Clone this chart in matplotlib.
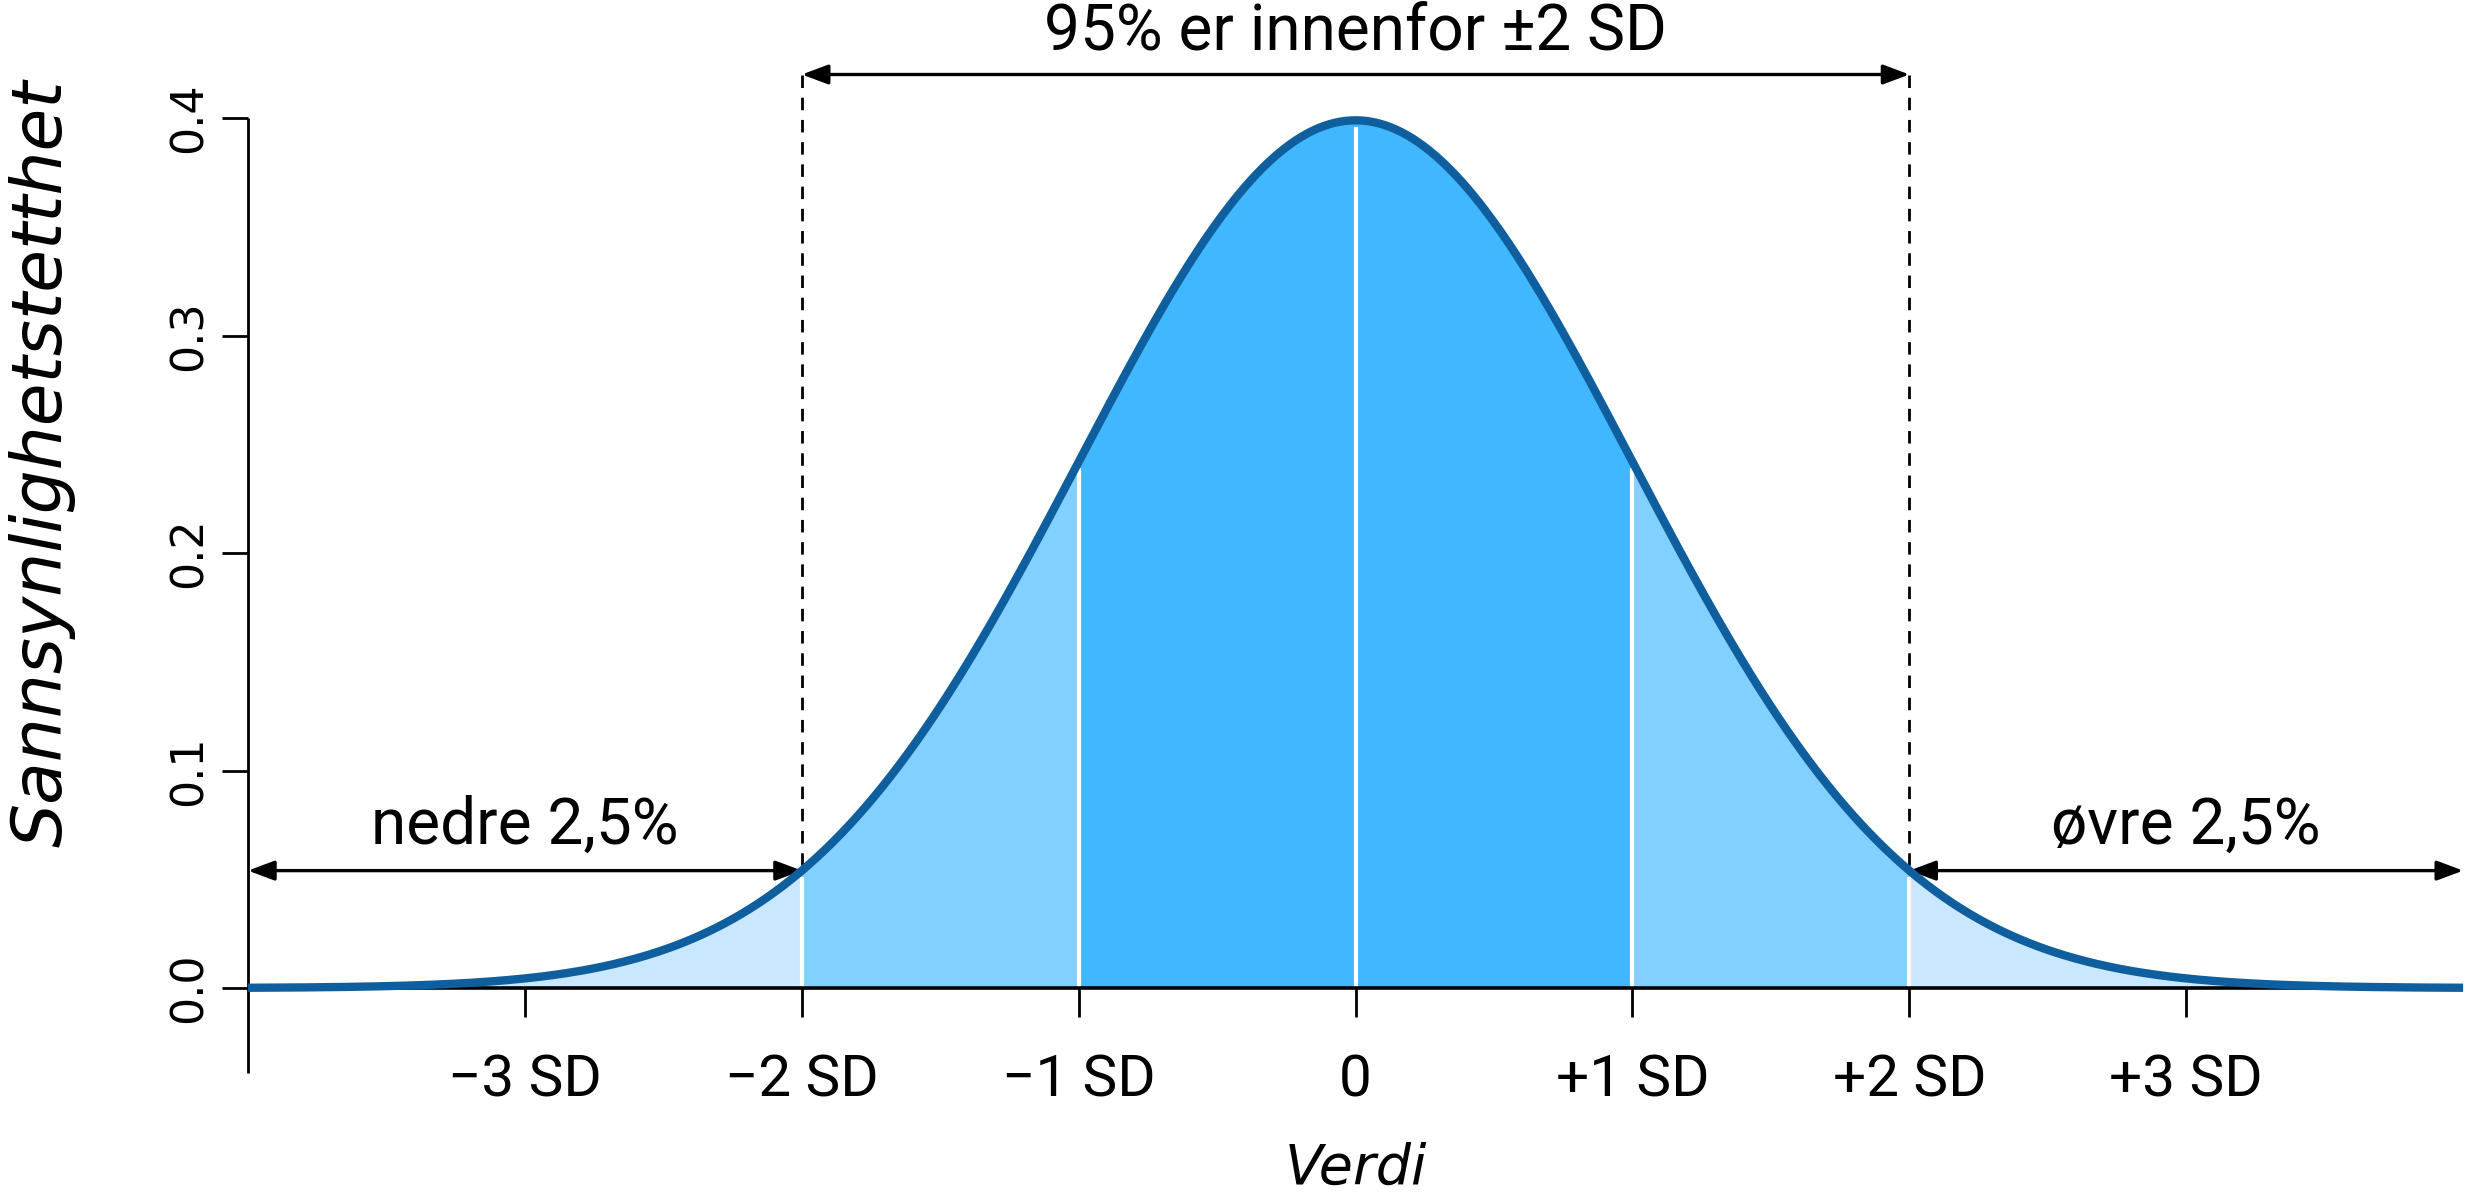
import matplotlib.pyplot as plt
import numpy as np

# -- Data
MEAN = 0.0
SD = 1.0
X_RANGE = (-4, 4)
BAND_EDGES = [-4, -2, -1, 1, 2, 4]
BAND_COLORS = ["#C9E8FF", "#82D0FF", "#40B7FF", "#82D0FF", "#C9E8FF"]
DIVIDERS = [-2, -1, 0, 1, 2]
X_TICKS = [-3, -2, -1, 0, 1, 2, 3]
X_TICK_LABELS = ["\u22123 SD", "\u22122 SD", "\u22121 SD", "0",
                 "+1 SD", "+2 SD", "+3 SD"]
Y_TICKS = [0.0, 0.1, 0.2, 0.3, 0.4]
Y_TICK_LABELS = ["0.0", "0.1", "0.2", "0.3", "0.4"]
TOP_TEXT = "95% er innenfor \u00b12 SD"
LOW_TEXT = "nedre 2,5%"
HIGH_TEXT = "\u00f8vre 2,5%"

CURVE_COLOR = "#0F5E9E"
TEXT_FONT = "Roboto"
AXIS_FONT = "DejaVu Sans"


def density(x):
    return np.exp(-0.5 * ((x - MEAN) / SD) ** 2) / (SD * np.sqrt(2 * np.pi))


fig = plt.figure(figsize=(12.38, 5.96), dpi=200)
ax = fig.add_axes([0.1002, 0.1711, 0.8946, 0.7299])
ax.set_xlim(*X_RANGE)
ax.set_ylim(0, 0.4)
for s in ax.spines.values():
    s.set_visible(False)

# -- filled bands
for (a, b), c in zip(zip(BAND_EDGES[:-1], BAND_EDGES[1:]), BAND_COLORS):
    xs = np.linspace(a, b, 200)
    ax.fill_between(xs, 0, density(xs), color=c, lw=0, zorder=1)

for d in DIVIDERS:
    ax.plot([d, d], [0, density(d) - 0.003], color="white", lw=1.5,
            zorder=2, solid_capstyle="butt")

# -- axis lines
ax.plot(X_RANGE, [0, 0], color="black", lw=1.3, zorder=2,
        solid_capstyle="butt", clip_on=False)
ax.plot([X_RANGE[0]] * 2, [0.4, -0.039], color="black", lw=1.0,
        clip_on=False, zorder=2, solid_capstyle="butt")

# -- curve
xs = np.linspace(X_RANGE[0], X_RANGE[1], 800)
ax.plot(xs, density(xs), color=CURVE_COLOR, lw=3.0, zorder=4,
        clip_on=False, solid_capstyle="butt")

# -- dashed guides and arrows
top_y = 0.42
tail_y = density(2)
for xv in (-2, 2):
    ax.plot([xv, xv], [top_y, tail_y], color="black", lw=1.0,
            linestyle=(0, (4.5, 3.5)), clip_on=False, zorder=3)

arrow = dict(arrowstyle="<|-|>,head_length=0.8,head_width=0.3",
             color="black", lw=1.2, shrinkA=0, shrinkB=0)
ax.annotate("", xy=(2, top_y), xytext=(-2, top_y), arrowprops=arrow,
            annotation_clip=False)
ax.annotate("", xy=(-2, tail_y), xytext=(-4, tail_y), arrowprops=arrow,
            annotation_clip=False)
ax.annotate("", xy=(4, tail_y), xytext=(2, tail_y), arrowprops=arrow,
            annotation_clip=False)

ax.text(0, 0.44, TOP_TEXT, ha="center", va="center", fontsize=23,
        family=TEXT_FONT, clip_on=False)
ax.text(-3, 0.0748, LOW_TEXT, ha="center", va="center", fontsize=23,
        family=TEXT_FONT)
ax.text(3, 0.0748, HIGH_TEXT, ha="center", va="center", fontsize=23,
        family=TEXT_FONT)

# -- ticks
ax.set_xticks(X_TICKS)
ax.set_xticklabels(X_TICK_LABELS, family=TEXT_FONT, fontsize=21)
ax.set_yticks(Y_TICKS)
ax.set_yticklabels(Y_TICK_LABELS, family=AXIS_FONT, fontsize=16,
                   rotation=90, va="center")
ax.tick_params(axis="x", length=10.5, width=1.0, pad=13)
ax.tick_params(axis="y", length=9.5, width=1.0, pad=4)

fig.text(0.017, 0.611, "Sannsynlighetstetthet", rotation=90,
         ha="center", va="center", fontsize=25, style="italic",
         family=AXIS_FONT)
fig.text(ax.transData.transform((0, 0))[0] / fig.bbox.width, 0.02,
         "Verdi", ha="center", va="center", fontsize=20, style="italic",
         family=AXIS_FONT)

fig.savefig("out.png", dpi=200, facecolor="white")
